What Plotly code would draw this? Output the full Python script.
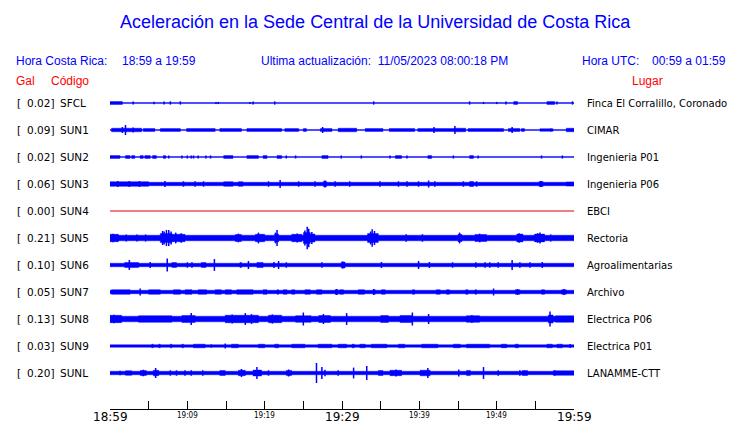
import plotly.graph_objects as go

# station data (amplitudes in Gal, times in minutes after 18:59)
codes = ["SFCL", "SUN1", "SUN2", "SUN3", "SUN4", "SUN5", "SUN6", "SUN7", "SUN8", "SUN9", "SUNL"]
places = ["Finca El Corralillo, Coronado", "CIMAR", "Ingenieria P01", "Ingenieria P06", "EBCI",
          "Rectoria", "Agroalimentarias", "Archivo", "Electrica P06", "Electrica P01", "LANAMME-CTT"]
peaks = [0.02, 0.09, 0.02, 0.06, 0.00, 0.21, 0.10, 0.05, 0.13, 0.03, 0.20]
base_amp = [0.01, 0.01, 0.01, 0.033, 0.0, 0.052, 0.033, 0.033, 0.052, 0.024, 0.033]

bursts = {
    "SFCL": [(0.0, 1.6, 0.028), (52.2, 52.7, 0.026), (56.5, 57.5, 0.026)],
    "SUN1": [(0.2, 4.1, 0.033), (4.3, 5.8, 0.028), (6.5, 9.1, 0.026), (9.9, 13.6, 0.028), (14.2, 17.0, 0.028),
             (17.7, 22.2, 0.028), (22.6, 24.4, 0.026), (25.0, 25.4, 0.026), (27.2, 28.7, 0.028), (29.5, 31.9, 0.033),
             (33.0, 35.3, 0.028), (36.1, 39.4, 0.028), (39.8, 44.6, 0.028), (44.6, 46.0, 0.033), (46.3, 50.9, 0.028),
             (51.5, 53.0, 0.028), (53.2, 53.6, 0.026), (55.6, 57.3, 0.024), (59.0, 60.0, 0.033)],
    "SUN2": [(0.0, 1.3, 0.026), (2.0, 2.6, 0.026), (2.8, 3.2, 0.026), (3.9, 4.3, 0.026), (4.5, 5.2, 0.026),
             (5.5, 6.0, 0.026), (6.9, 7.2, 0.026), (14.7, 15.9, 0.026), (17.7, 19.2, 0.026), (19.8, 20.3, 0.026),
             (21.6, 22.2, 0.026), (27.4, 28.2, 0.026), (36.9, 37.7, 0.026), (41.1, 41.6, 0.026), (46.5, 47.0, 0.026)],
    "SUN3": [(0.0, 5.0, 0.042), (14.7, 15.9, 0.042), (16.6, 17.2, 0.042), (27.6, 28.0, 0.05), (46.5, 47.0, 0.048),
             (55.5, 56.0, 0.048), (59.0, 60.0, 0.038)],
    "SUN4": [],
    "SUN5": [(0.0, 1.1, 0.068), (6.5, 8.0, 0.085), (8.0, 9.7, 0.07), (16.2, 17.0, 0.065), (18.8, 20.0, 0.07),
             (21.3, 21.8, 0.075), (23.5, 24.8, 0.068), (25.0, 25.9, 0.1), (25.9, 26.5, 0.075), (33.3, 34.7, 0.085),
             (45.0, 45.5, 0.068), (47.2, 48.7, 0.065), (52.6, 53.4, 0.072), (54.9, 56.2, 0.072)],
    "SUN6": [(1.9, 3.7, 0.048), (8.0, 8.6, 0.045), (11.8, 12.4, 0.045), (16.8, 17.0, 0.048), (19.0, 19.8, 0.048),
             (29.9, 30.4, 0.055)],
    "SUN7": [(0.2, 2.6, 0.042), (5.0, 6.5, 0.042), (8.2, 9.1, 0.042), (9.7, 10.6, 0.042), (11.4, 12.5, 0.042),
             (13.6, 14.4, 0.042), (14.9, 15.7, 0.042), (16.4, 18.5, 0.042), (19.8, 20.3, 0.042), (21.6, 21.8, 0.042),
             (22.4, 22.9, 0.042), (23.5, 23.9, 0.042), (25.2, 25.9, 0.042), (26.7, 27.4, 0.042), (29.1, 29.5, 0.042),
             (29.7, 30.2, 0.042), (32.1, 32.9, 0.042), (34.0, 34.3, 0.042), (35.1, 35.6, 0.042), (39.1, 39.4, 0.042),
             (42.2, 42.7, 0.042), (43.5, 43.9, 0.042), (46.0, 46.3, 0.042), (47.2, 47.4, 0.042), (52.4, 53.0, 0.042),
             (55.8, 56.2, 0.042), (58.4, 59.0, 0.042)],
    "SUN8": [(0.0, 1.5, 0.068), (3.7, 8.0, 0.06), (9.3, 11.0, 0.066), (14.9, 19.2, 0.07), (20.5, 22.2, 0.07),
             (24.0, 26.0, 0.06), (27.0, 28.5, 0.064), (35.0, 36.0, 0.064), (37.5, 39.0, 0.066),
             (46.1, 47.8, 0.06), (56.7, 57.3, 0.075), (57.6, 60.0, 0.058)],
    "SUN9": [(5.4, 5.6, 0.034), (6.3, 6.5, 0.034), (7.8, 8.0, 0.034), (9.3, 9.5, 0.034), (10.8, 12.3, 0.034),
             (15.7, 16.6, 0.034), (19.2, 20.0, 0.034), (21.3, 21.8, 0.034), (23.5, 25.2, 0.034), (26.9, 28.7, 0.034),
             (29.5, 30.6, 0.034), (31.3, 31.6, 0.034), (32.3, 33.0, 0.034), (33.8, 35.8, 0.034), (37.3, 38.1, 0.034),
             (40.3, 42.4, 0.034), (44.4, 45.3, 0.034), (46.1, 49.1, 0.034), (50.6, 51.3, 0.034), (52.4, 52.8, 0.034),
             (56.5, 57.2, 0.034), (57.8, 58.5, 0.034)],
    "SUNL": [(2.0, 2.8, 0.042), (3.9, 4.7, 0.046), (5.6, 6.3, 0.05), (14.2, 14.9, 0.046), (16.6, 17.5, 0.05),
             (18.5, 19.6, 0.055), (22.8, 23.5, 0.048), (34.7, 35.3, 0.046), (36.2, 37.7, 0.05), (40.1, 41.4, 0.052),
             (46.1, 46.6, 0.048), (53.3, 54.0, 0.046), (57.3, 60.0, 0.04)],
}

spikes = {
    "SFCL": [(3.0, 0.03), (5.7, 0.025), (7.0, 0.03), (7.8, 0.03), (9.1, 0.03), (13.7, 0.02), (14.0, 0.02),
             (18.1, 0.02), (18.5, 0.03), (21.3, 0.03), (34.1, 0.03), (46.5, 0.03), (48.3, 0.02), (50.0, 0.02),
             (51.2, 0.03), (57.8, 0.03), (59.8, 0.03)],
    "SUN1": [(1.6, 0.056), (2.0, 0.093), (3.0, 0.046), (27.5, 0.056), (41.9, 0.056), (44.6, 0.074), (52.0, 0.056),
             (57.0, 0.03)],
    "SUN2": [(7.6, 0.028), (9.3, 0.028), (10.0, 0.028), (10.5, 0.028), (10.8, 0.028), (11.4, 0.028), (12.4, 0.028),
             (13.0, 0.028), (22.8, 0.028), (24.0, 0.028), (29.9, 0.028), (32.5, 0.028), (36.2, 0.028), (38.4, 0.028),
             (44.4, 0.028), (47.6, 0.028), (55.8, 0.028), (58.5, 0.028)],
    "SUN3": [(1.0, 0.056), (2.5, 0.056), (3.8, 0.056), (7.1, 0.056), (9.5, 0.05), (11.0, 0.05), (12.1, 0.05),
             (20.5, 0.05), (22.0, 0.074), (24.4, 0.05), (26.5, 0.05), (27.8, 0.065), (29.1, 0.05), (31.0, 0.05),
             (34.9, 0.05), (37.3, 0.05), (38.4, 0.05), (39.9, 0.05), (41.2, 0.065), (42.0, 0.05), (45.7, 0.05),
             (47.4, 0.05), (55.7, 0.056)],
    "SUN4": [],
    "SUN5": [(0.4, 0.08), (2.1, 0.065), (3.5, 0.065), (4.6, 0.065), (6.8, 0.13), (7.0, 0.12), (7.3, 0.15),
             (7.6, 0.15), (7.9, 0.12), (8.5, 0.1), (9.2, 0.09), (16.6, 0.08), (19.2, 0.1), (21.4, 0.1), (21.6, 0.15),
             (24.2, 0.085), (25.2, 0.14), (25.5, 0.21), (25.7, 0.17), (26.1, 0.11), (33.7, 0.12), (33.9, 0.16),
             (34.2, 0.13), (38.3, 0.07), (40.4, 0.07), (45.2, 0.1), (47.8, 0.08), (52.9, 0.09), (55.3, 0.09),
             (55.6, 0.1), (57.0, 0.065)],
    "SUN6": [(2.5, 0.093), (5.2, 0.056), (7.4, 0.12), (10.0, 0.05), (10.6, 0.05), (13.5, 0.11), (17.9, 0.074),
             (21.2, 0.056), (21.8, 0.074), (22.8, 0.05), (27.4, 0.05), (30.1, 0.065), (35.1, 0.056), (39.9, 0.074),
             (41.3, 0.056), (44.3, 0.05), (47.3, 0.05), (48.5, 0.05), (49.1, 0.05), (50.2, 0.05), (52.0, 0.093),
             (53.0, 0.05), (54.3, 0.05), (55.9, 0.056)],
    "SUN7": [(3.9, 0.065), (29.3, 0.056), (34.1, 0.056), (49.6, 0.065), (52.7, 0.056), (58.7, 0.056)],
    "SUN8": [(0.5, 0.08), (10.5, 0.11), (15.8, 0.085), (17.5, 0.11), (18.3, 0.09), (21.0, 0.085), (25.0, 0.12),
             (27.6, 0.093), (30.6, 0.11), (39.1, 0.12), (41.2, 0.093), (46.8, 0.075), (56.9, 0.14)],
    "SUN9": [(13.1, 0.03), (14.9, 0.046), (59.5, 0.037)],
    "SUNL": [(1.3, 0.04), (4.3, 0.06), (5.9, 0.093), (7.8, 0.05), (8.6, 0.05), (9.7, 0.05), (10.5, 0.05),
             (12.0, 0.05), (17.0, 0.075), (19.0, 0.11), (20.5, 0.05), (23.1, 0.065), (26.7, 0.185), (27.4, 0.11),
             (27.8, 0.06), (29.5, 0.05), (31.5, 0.1), (33.2, 0.13), (37.0, 0.065), (41.1, 0.093), (45.1, 0.065),
             (48.3, 0.11), (50.2, 0.05), (53.0, 0.05), (57.5, 0.05)],
}

tick_min = [0, 5, 10, 15, 20, 25, 30, 35, 40, 45, 50, 55, 60]
tick_text = {0: "18:59", 10: "19:09", 20: "19:19", 30: "19:29", 40: "19:39", 50: "19:49", 60: "19:59"}
major_ticks = [0, 30, 60]

BLUE = "#0000ff"
RED = "#ff0000"
GAP = 0.5  # Gal between rows

# page pixels (the browser body adds an 8px margin, so the figure starts at 8,8)
OFF = 8
L, R, T, B = 110, 574, 92, 409
PW, PH = 740, 423
W, H = PW - OFF, PH - OFF


def px(x):
    return (x - L) / (R - L)


def py(y):
    return (B - y) / (B - T)


fig = go.Figure()

for i, code in enumerate(codes):
    c = -i * GAP
    if code == "SUN4":
        fig.add_trace(go.Scatter(x=[0, 60], y=[c, c], mode="lines",
                                 line=dict(color="#e00000", width=1.2), hoverinfo="skip"))
        continue
    # base band plus burst blocks as filled polygons
    xs, ys = [], []
    a = base_amp[i]
    for t0, t1, amp in [(0, 60, a)] + bursts[code]:
        xs += [t0, t1, t1, t0, t0, None]
        ys += [c + amp, c + amp, c - amp, c - amp, c + amp, None]
    fig.add_trace(go.Scatter(x=xs, y=ys, mode="lines", fill="toself", fillcolor=BLUE,
                             line=dict(color=BLUE, width=0.4), hoverinfo="skip"))
    sx, sy = [], []
    for t, amp in spikes[code]:
        sx += [t, t, None]
        sy += [c - amp, c + amp, None]
    fig.add_trace(go.Scatter(x=sx, y=sy, mode="lines", line=dict(color=BLUE, width=1.5),
                             hoverinfo="skip"))

ann = []
lab_font = dict(family="DejaVu Sans", size=10.5, color="black")
place_font = dict(family="DejaVu Sans", size=10, color="black")
for i, code in enumerate(codes):
    c = -i * GAP
    ann.append(dict(x=px(15), xref="paper", y=c, yref="y", text="[", xanchor="left",
                    showarrow=False, font=lab_font))
    ann.append(dict(x=px(55.5), xref="paper", y=c, yref="y", text=f"{peaks[i]:.2f}]", xanchor="right",
                    showarrow=False, font=lab_font))
    ann.append(dict(x=px(58), xref="paper", y=c, yref="y", text=code, xanchor="left",
                    showarrow=False, font=lab_font))
    ann.append(dict(x=px(585), xref="paper", y=c, yref="y", text=places[i], xanchor="left",
                    showarrow=False, font=place_font))

for t, txt in tick_text.items():
    big = t in major_ticks
    ann.append(dict(x=t, xref="x", y=0, yref="paper", text=txt, showarrow=False,
                    yanchor="middle", yshift=-7.5 if big else -6,
                    font=dict(family="DejaVu Sans" if big else "DejaVu Sans Condensed",
                              size=12 if big else 8, color="black")))

hdr = dict(family="Liberation Sans, Arial", size=12, color=BLUE)
red = dict(family="Liberation Sans, Arial", size=12, color=RED)
ann += [
    dict(x=px(375), y=py(22), text="Aceleración en la Sede Central de la Universidad de Costa Rica",
         font=dict(family="Liberation Sans, Arial", size=18, color=BLUE), xanchor="center"),
    dict(x=px(14), y=py(61), text="Hora Costa Rica:", font=hdr, xanchor="left"),
    dict(x=px(120), y=py(61), text="18:59 a 19:59", font=hdr, xanchor="left"),
    dict(x=px(259), y=py(61), text="Ultima actualización:  11/05/2023 08:00:18 PM", font=hdr, xanchor="left"),
    dict(x=px(580), y=py(61), text="Hora UTC:", font=hdr, xanchor="left"),
    dict(x=px(650), y=py(61), text="00:59 a 01:59", font=hdr, xanchor="left"),
    dict(x=px(14), y=py(81), text="Gal", font=red, xanchor="left"),
    dict(x=px(49), y=py(81), text="Código", font=red, xanchor="left"),
    dict(x=px(630), y=py(81), text="Lugar", font=red, xanchor="left"),
]
for a in ann[-9:]:
    a.update(xref="paper", yref="paper", showarrow=False, yanchor="middle")

fig.update_layout(
    width=W, height=H,
    margin=dict(l=L - OFF, r=PW - R, t=T - OFF, b=PH - B, pad=0),
    paper_bgcolor="white", plot_bgcolor="white",
    showlegend=False,
    annotations=ann,
    xaxis=dict(range=[0, 60], showgrid=False, zeroline=False, showline=True, linecolor="black",
               linewidth=1, ticks="inside", ticklen=8, tickcolor="black", tickwidth=1,
               tickvals=tick_min, showticklabels=False, fixedrange=True),
    yaxis=dict(range=[-10 * GAP - 36 / 54, 11 / 54], showgrid=False, zeroline=False,
               showticklabels=False, showline=False, fixedrange=True),
)

fig.write_html("out.html", config={"displayModeBar": False})
